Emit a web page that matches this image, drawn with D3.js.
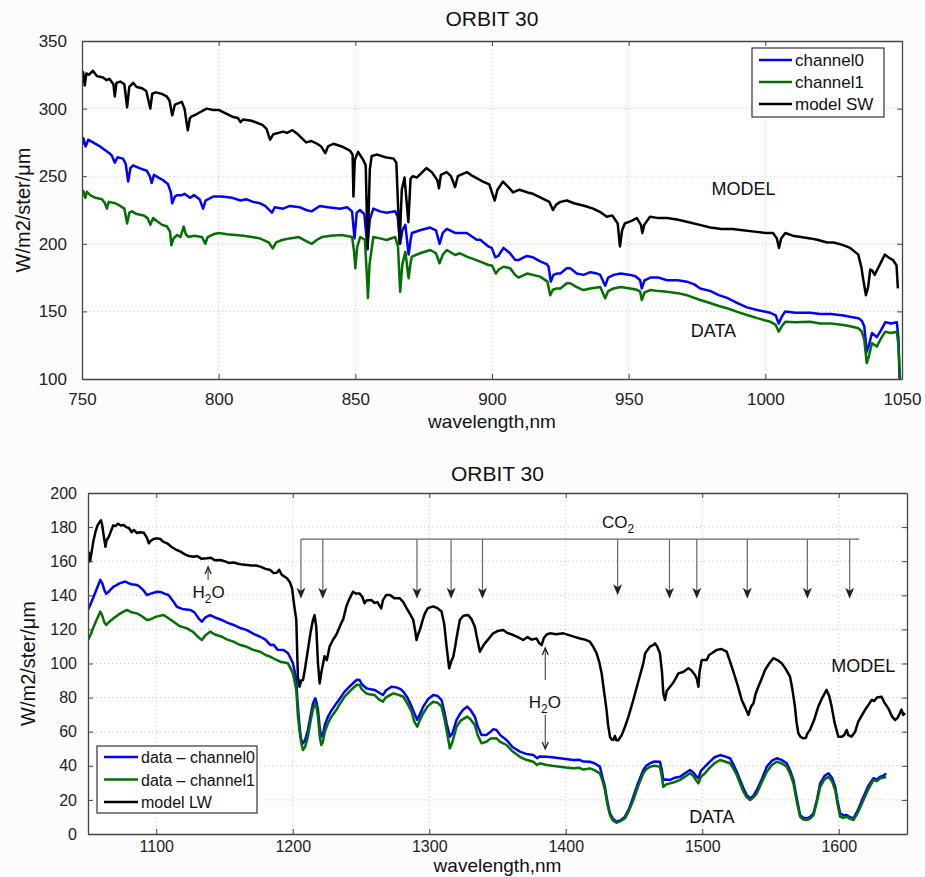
<!DOCTYPE html>
<html>
<head>
<meta charset="utf-8">
<script src="https://cdn.jsdelivr.net/npm/d3@7"></script>
<style>
  body { margin: 0; background: #fcfcfc; }
  svg { display: block; font-family: "Liberation Sans", Arial, sans-serif; }
  .grid line { stroke: #c4c4c4; stroke-dasharray: 1,3; }
  .axis path, .axis line { stroke: #444; }
  .axis text { fill: #222; }
</style>
</head>
<body>
<svg id="chart" width="925" height="877"></svg>
<script>
// ---- top panel (SW): [wavelength nm, radiance]
const swModel = [[750,322],[750.4,327],[751,317],[751.6,326],[752.5,325],[754,328],[755.5,324],[757.7,323],[759,321],[760,322],[761.5,318],[762,309],[762.6,319],[764,320],[765.5,318],[766.5,301],[767.3,316],[768.7,319],[770,316],[772,315],[773.5,313],[775,300],[775.7,311],[777,312],[779,311],[781,309],[782,306],[783,295],[784,303],[786.5,305],[787.5,300],[788.7,284],[789.5,293],[790,294],[792,296],[795.6,300],[798,299],[800,299],[802,297],[805,294],[807,293],[808,290],[809,292],[812,291],[816,288],[817.5,285],[818.8,277],[820,281],[823.6,283],[825,282],[827,284],[829,281],[832,275],[834,276],[836,274],[837.5,272],[839,267],[840,272],[842,274],[845,272],[848,269],[849,266],[849.3,235],[849.8,262],[851,268],[852.9,262],[853.8,258],[854.5,196],[855.3,255],[856,265],[858,266],[861,264],[864,263],[865,260],[866.2,200],[867,240],[868,249],[869.4,216],[870.2,248],[871,250],[872.5,249],[874,252],[876,256],[878,253],[880,247],[880.6,241],[881.3,251],[883.4,253],[885,250],[886.5,242],[887.5,250],[890.8,253],[893,250],[896.7,246],[899,244],[901,232],[902,240],[904,246],[906,242],[907.7,238],[910,240],[913,238],[915,237],[918,234],[921,231],[922.3,225],[923.5,229],[925,231],[927.4,232],[930,230],[934,228],[937,226],[940,223],[942,220],[944,221],[946,215],[946.8,198],[947.6,210],[948.6,215],[951,217],[953,219],[954.5,214],[955,208],[955.7,214],[957.8,220],[961,219],[964,219],[967.7,218],[972,216],[976,214],[979.8,212],[984,211],[988,211],[991.8,210],[996,209],[1000,208],[1002.8,208],[1004.2,204],[1005,197],[1005.8,204],[1007.3,208],[1010,206],[1013,205],[1016.4,204],[1019,203],[1022.6,201],[1025,201],[1028.5,199],[1031,197],[1034,192],[1035.2,182],[1035.7,175],[1036.8,162],[1037.6,168],[1038.4,181],[1039.2,180],[1040,177],[1041.5,183],[1043.7,192],[1045,190],[1046.7,188],[1048,184],[1048.5,167]];

const swCh0 = [[750,273],[750.5,278],[751.3,272],[752.3,277],[754,275],[756.6,272],[758,270],[760,267],[761,265],[762,260],[763,264],[765,263],[766,259],[766.9,246],[767.7,256],[768.7,258],[771,256],[773.7,254],[774.8,250],[775.5,245],[776.3,251],[778,249],[779.7,247],[781.5,244],[782.5,238],[783,230],[784,235],[784.8,236],[786.5,236],[787.5,237],[789.5,234],[791,236],[793,233],[794.3,226],[795.2,232],[798,235],[801,235],[805,234],[808,232],[810,233],[812.6,231],[815,230],[817,228],[819.5,223],[820.5,227],[823.6,226],[826,228],[829.8,227],[832,225],[834,224],[837,228],[840,227],[844.4,226],[847,227],[848.8,224],[849.7,204],[850.5,223],[851.7,225],[853.3,222],[854.4,198],[855.3,218],[856.6,226],[859,224],[861.5,223],[864.6,224],[865.5,220],[866.4,200],[867.2,210],[868.3,214],[869.5,192],[870.3,204],[870.7,208],[873.7,210],[877.4,212],[879.5,210],[880.8,200],[882,208],[883.5,211],[886.5,208],[888.3,208],[890.8,208],[894.4,203],[895.7,203],[898.7,198],[899.9,197],[901.2,190],[902.3,191],[904.2,197],[906.6,193],[908.5,188],[909.7,188],[912.7,191],[915,190],[917.6,187],[920,185],[920.7,183],[921.5,172],[922.5,177],[923.7,178],[925,178],[927.4,182],[928.6,182],[931,178],[933.5,177],[936,179],[938.4,178],[939.6,177],[941.4,169],[942.5,175],[944.5,177],[947,178],[950.6,177],[952.5,176],[954.2,173],[954.8,167],[955.8,173],[957.9,175],[961,175],[964,173],[968,173],[971.3,172],[974,170],[976.2,167],[980,165],[983,162],[986,160],[990,156],[993.3,153],[997,151],[1001.8,149],[1003.8,147],[1004.9,141],[1006,146],[1007.3,150],[1011,149],[1016.5,149],[1020,148],[1024,148],[1028.6,147],[1031,146],[1034.1,145],[1035.3,143],[1036.2,139],[1037.1,120],[1037.9,125],[1039,134],[1040.8,131],[1042.3,136],[1043.9,142],[1046,141],[1048.1,142],[1048.7,130],[1049.1,100]];

const swCh1 = [[750,236],[750.5,239],[751.2,234],[751.8,238.5],[753,236],[754.9,234],[757.3,233],[758.4,230],[759.1,226],[759.8,231],[762.2,230],[764,228],[765.5,226],[766.5,215],[767.3,223],[768.3,224],[770,222],[772.6,221],[774,219],[775,214],[776,219],[778,216],[779.3,214],[781,213],[782.2,209],[782.7,199],[783.5,204],[784.8,206.5],[786,205],[787.2,212.7],[788,207],[789,205],[791,206],[793.9,205],[795.1,200],[796,205],[798,207],[800,208],[803,207],[806.1,206.5],[809,206],[812.2,205],[815,204],[818.3,201],[819.8,196.6],[821,201],[823.2,202.8],[826,204],[829.3,205],[832,202],[834.1,200],[836,203],[837.8,205],[841,206],[845.1,206.5],[848.8,205],[849.5,195],[850,182],[850.7,198],[851.8,205],[853.5,203],[854.4,170],[854.6,160],[855.2,185],[856.6,205],[859,204],[861.5,202.8],[864.6,205],[865.6,198],[866.4,164.6],[867.2,185],[868.3,194],[869.5,174.5],[870.2,186],[870.7,190.5],[873.7,193],[877.4,195.4],[879.5,193],[880.8,185.6],[882,192],[883.5,195.4],[886.5,191.7],[888.3,193],[890.8,190.5],[895.7,186.8],[898.7,184.3],[900,184],[901.4,178],[902.5,181],[904.2,183],[906.6,182],[908.5,177],[909.7,175],[912.8,178],[917.6,175.7],[920.3,172],[921.3,162],[922.3,166],[923.7,167],[925,167],[927.4,170.8],[928.6,170.8],[931,168],[933.5,165.8],[936,167],[939.6,168],[941.4,159.7],[942.5,165],[944.5,167],[947,168],[950.6,167],[953,166],[954.2,164.6],[954.8,158.4],[955.8,164],[957.9,165.8],[961,165],[964,164.6],[968,163.5],[971.3,162],[974,160],[976.2,158.4],[980,156],[983,154],[986,152.3],[990,149.5],[993.3,147.3],[997,145],[1001.8,142.4],[1003.8,140],[1004.9,135],[1006,139],[1007.3,142.4],[1011,142],[1016.5,142.4],[1020,141],[1024,141],[1028.6,140],[1031,139],[1034.1,137.5],[1035.3,135],[1036.2,129],[1037.1,111.7],[1037.9,117],[1039,126.4],[1040.8,124],[1042.3,130],[1043.9,135],[1046,134],[1048.1,135],[1048.7,125],[1049.3,100]];

// ---- bottom panel (LW)
const lwModel = [[1050,159],[1050.6,165],[1051.5,160],[1052.9,166.6],[1054,172],[1055.5,177.3],[1057,181],[1058.7,183.2],[1059.5,184],[1060.4,181.2],[1061.5,175],[1062.8,168.5],[1063.5,172],[1065.3,174.4],[1067,178],[1068.5,181],[1070.1,180.6],[1072,182],[1074,181],[1076.2,181.2],[1078,180],[1080,179.5],[1082,177],[1083.6,178.3],[1086,176.5],[1088,177],[1090.9,176.7],[1093,174],[1094.6,170.5],[1096,172],[1098,173],[1100.7,173.4],[1103,173],[1105,171.5],[1108,170.5],[1111,168.5],[1114,167],[1117.8,165.6],[1121,164],[1124,163],[1127.5,162.6],[1130,163],[1133,161.5],[1137.3,161.7],[1140,162],[1143,160.5],[1147,160.7],[1150,160],[1153,159],[1156.8,159.2],[1160,158.5],[1163,158],[1166.6,157.8],[1170,157.5],[1173,157.5],[1176.3,156.8],[1180,155.5],[1183.6,154.8],[1186,153],[1188.5,153.3],[1190,155],[1192,152],[1195.8,150],[1198,147.5],[1199.5,144.1],[1201.2,133.3],[1202.6,125.5],[1203.3,105],[1203.8,92.3],[1205,86.4],[1206.2,90],[1207.5,90.3],[1209,97],[1211.1,107.9],[1213,118],[1214.8,125.5],[1216,128.4],[1217.2,121.6],[1218.5,100],[1219.7,88.3],[1221,95],[1223.3,104.2],[1225,102],[1227,110],[1229.4,113.8],[1232,117],[1235.5,123.6],[1237,126],[1239.2,133.3],[1241,137],[1244.1,142.1],[1246,141],[1249,141.1],[1251,139],[1252.6,135.3],[1254,137],[1257.5,137.2],[1260,135.5],[1262,136],[1264.8,132.3],[1266,137],[1268.5,140.2],[1271.2,140.2],[1274.6,138.2],[1278.5,138.2],[1281,136],[1283.4,132.4],[1286,129],[1288.3,125.5],[1289.5,120],[1290.7,113.8],[1291.8,117],[1293.1,119.6],[1295,125],[1296.8,129.4],[1299,132.5],[1302.9,133.5],[1306,132.5],[1309,130.5],[1311,123],[1312.7,109.9],[1314.6,97.2],[1316,101],[1317.6,104],[1319,110],[1320,115],[1322.4,125.5],[1325,128],[1328.5,128.4],[1331,126],[1333.4,121.6],[1335,115],[1337.1,106.9],[1338.5,109],[1340.7,111.8],[1343,114],[1346.8,117.7],[1350,119],[1354.2,119.6],[1357,118],[1361.5,116.7],[1365,115.5],[1368.8,113.8],[1372,115.5],[1375,114],[1378.6,114.7],[1380.5,112],[1382.3,110.8],[1384,115],[1386,117],[1388.4,117.7],[1393,117.2],[1398.2,117.7],[1403,116.5],[1407,115.5],[1410.4,114.7],[1414,114],[1417.7,112.8],[1420,110],[1422.6,106],[1424.5,101],[1426.3,94.2],[1428,84],[1429.9,72.7],[1431,64],[1432.4,57],[1433.5,55.5],[1434.8,55.1],[1436,57.5],[1437,55],[1438.5,55],[1441,58],[1443.4,62.9],[1446,69],[1449.5,78.6],[1453,89],[1456.8,100.1],[1458.2,106],[1461.7,109.9],[1464.3,110.9],[1465.4,111.8],[1467,110],[1469,106],[1470.5,95],[1471.5,82.5],[1472.7,78.6],[1474,84],[1476.4,86.4],[1479,89],[1482.5,94.2],[1486,95],[1489.8,97.2],[1492,96],[1494.7,93.3],[1496,91],[1497.2,86.4],[1498,95],[1499.6,102],[1503.3,102],[1505,105],[1507,106],[1510.6,108],[1514,108.5],[1517.9,106.9],[1520,102],[1522.8,95.2],[1526,87],[1528.9,78.6],[1531,75],[1533.8,69.8],[1535,73],[1536,75],[1537.5,76.6],[1539,82],[1541.1,86.4],[1543.5,91],[1546,96.2],[1549,100],[1552.1,103.1],[1555,102],[1558.2,100.1],[1561,97],[1564.3,92.3],[1566,85],[1567.9,74.7],[1569,66],[1570.4,59.1],[1572,57],[1574.1,56.1],[1576,56.5],[1577,59],[1578.9,61],[1582,67],[1585,74.7],[1588,80],[1591.1,84.5],[1593,81],[1594.8,74.7],[1597,65],[1599.7,57.1],[1602,57],[1604,58],[1605.8,61],[1607,58],[1609.4,57.1],[1612,60],[1614.3,65.9],[1616.5,69],[1619.2,72.7],[1622,76],[1624.1,78.6],[1626,78],[1628,80],[1631.4,80.5],[1633.5,77],[1636.3,73.7],[1639,69],[1641.2,66.9],[1643,68],[1644.8,70.8],[1646,73],[1647.3,69.8],[1648.5,71]];

const lwCh0 = [[1050,131.4],[1052,135],[1054.1,139.2],[1056.5,144],[1059,149],[1060.5,147],[1062,143],[1063.4,140.8],[1065,142],[1068.7,145.1],[1071,146],[1073,147],[1077.3,148.1],[1080,147],[1082,146.5],[1085.8,146.1],[1088,145],[1090.5,143],[1093.2,140.2],[1096,141],[1100.5,142.1],[1103,142],[1106,141],[1109,140.2],[1112,137],[1115.1,133.3],[1119,132],[1124.9,131.4],[1128,130],[1131,126.5],[1133.4,124.5],[1136,127],[1139.5,128.4],[1143,127],[1148.1,125.5],[1152,124],[1156.6,122.6],[1161,121],[1166.4,119.6],[1171,117.5],[1176.2,115.7],[1180,114],[1183.5,110.9],[1186,111],[1189,108],[1193.3,107.9],[1196.5,106],[1198.5,103],[1200.1,100.1],[1201.5,95],[1202.6,90.3],[1203.3,80],[1203.8,74.7],[1205,62.9],[1206,56],[1207.5,53.2],[1209,55],[1211.1,61],[1213,69],[1214.8,76.6],[1216.5,79.6],[1217.5,77],[1218.5,72.7],[1219.8,62],[1220.9,57.1],[1222,58],[1223.5,64],[1225.8,68.8],[1228,72],[1231.9,76.6],[1235,80],[1238,83.5],[1241,86],[1245.3,89.3],[1247,90.5],[1249,90.3],[1250.5,88],[1253.9,85.5],[1256,85],[1260,84.5],[1263,83],[1266.1,81.5],[1268,84],[1272.2,86.4],[1276,86],[1279,85],[1281,83.5],[1284,80],[1287.1,74.7],[1289,71],[1291.2,66.9],[1293,70],[1295.6,74.7],[1299,79],[1302.9,81.5],[1306,81],[1309,78.6],[1311,72],[1312.7,64.9],[1315.1,57.1],[1317,59],[1320,66.9],[1323,71],[1325,73],[1327.8,74.7],[1330,73],[1333.4,68.8],[1335.5,63],[1338.3,58.1],[1341.9,58.1],[1345,60],[1347,61.5],[1349.3,61],[1352,58],[1356.6,55.1],[1361,51],[1366.4,48.3],[1371,47],[1376.2,46.3],[1379,44.5],[1381,45.5],[1385.9,45.3],[1390,45],[1395.7,44.4],[1400,44],[1405.5,43.4],[1410,43.5],[1413,42.5],[1417.7,42.4],[1421,41.5],[1425,39.5],[1427,33],[1428.7,27.7],[1430.5,19],[1432.4,12.1],[1434.5,9],[1437.2,7.2],[1440,8],[1443.4,10.2],[1446.5,15],[1449.5,21.9],[1453,30],[1456.8,37.5],[1459,40],[1461.7,41.5],[1465,42.5],[1469,42.4],[1470.3,38],[1471.5,31.7],[1473.5,32],[1476.4,31.7],[1480,33],[1483.7,33.6],[1487,35.5],[1491,37.5],[1493.5,36],[1495.5,34],[1497.2,32.7],[1499,37],[1502,39.5],[1505,42],[1509,45],[1513.1,46.3],[1516.5,45.5],[1520.4,44.4],[1523,40.5],[1525.3,36.5],[1527.8,31.5],[1530.2,26.8],[1532.5,23],[1535.1,20.9],[1537.5,22.5],[1540,25.8],[1543.5,32],[1547.3,39.5],[1551,43],[1554.6,44.4],[1558,43.5],[1561.9,41.5],[1564.5,37],[1566.8,31.7],[1569,22],[1571.7,11.1],[1574,9.5],[1576.6,9.2],[1579,10],[1581.5,12.1],[1584,20],[1586.4,29.7],[1589.5,34],[1592.5,35.6],[1595,33],[1597.4,27.7],[1599,20],[1601,12.1],[1603.5,11],[1605.9,11.1],[1608,10],[1610.8,9.2],[1614,14],[1618.1,21.9],[1621.5,28],[1625.4,32.7],[1628,32],[1630.3,33.6],[1632.5,34],[1634.7,35.6]];

const lwCh1 = [[1050,113.8],[1052,117],[1054.1,121.6],[1056.5,126],[1059,130.4],[1060.5,128],[1062,124],[1063.4,122.6],[1065,124],[1068.7,126.5],[1072,128.5],[1075,130],[1078.5,131.4],[1082,130],[1085.8,129.4],[1089,128],[1093.2,125.5],[1096,126],[1100,127.5],[1105.4,128.4],[1109,126.5],[1112.7,124.5],[1117,122],[1122.5,120.6],[1127,118.5],[1130,116],[1133.4,113.8],[1136,116.5],[1139.5,118.7],[1143,117],[1148.1,115.7],[1152,114],[1156.6,112.8],[1161,111],[1166.4,109.8],[1171,108],[1176.2,106.9],[1180,105],[1183.5,104],[1187,102.5],[1191,101],[1196.5,100.1],[1198.5,97],[1200.1,94.2],[1201.5,89],[1202.6,84.5],[1203.3,75],[1203.8,68.8],[1205,60],[1206.3,53.2],[1207.5,49.3],[1209,51],[1211.1,57.1],[1213,66],[1214.8,73],[1216.5,76.6],[1217.5,74],[1218.5,68.8],[1219.8,57],[1220.9,52.2],[1222,54],[1223.5,60],[1225.8,64.9],[1228,68.5],[1231.9,72.7],[1235,77],[1238,80.5],[1241,83],[1245.3,86.4],[1247,87.5],[1249,87.4],[1250.5,85],[1253.9,82.5],[1256,82],[1260,81.5],[1263,79],[1266.1,77.6],[1268,80],[1273.6,82.5],[1276,82],[1281,80.5],[1284,76.5],[1287.1,71.7],[1289,66],[1291.2,62.9],[1293,66.5],[1295.6,70.8],[1299,75],[1302.9,77.6],[1306,77],[1309,74.7],[1311,68],[1312.7,61],[1315.1,50.2],[1317,54],[1320,62.9],[1323,66.5],[1327.8,68.8],[1330,67.5],[1333.4,63.9],[1335.5,58],[1338.3,53.2],[1341.9,54.1],[1345,56],[1349.3,56.1],[1352,54],[1356.6,52.2],[1361,48.5],[1366.4,45.3],[1371,43.5],[1376.2,42.4],[1379,40.5],[1381,41.5],[1385.9,40.5],[1390,40],[1395.7,39.5],[1400,39],[1405.5,38.5],[1410,38.8],[1413,37.8],[1417.7,38.5],[1421,37.5],[1425,35.6],[1427,31],[1428.7,25.8],[1430.5,17.5],[1432.4,11.1],[1434.5,8],[1437.2,6.6],[1440,7.5],[1443.4,9.2],[1446.5,14],[1449.5,19.9],[1453,28],[1456.8,35.6],[1459,38],[1461.7,39.5],[1465,40],[1469,39.5],[1470.3,34],[1471.5,27.7],[1473.5,29],[1476.4,29.7],[1480,30.5],[1483.7,31.7],[1487,33.5],[1491,35.6],[1493.5,34],[1495.5,31.5],[1497.2,29.7],[1499,33.5],[1502,35.6],[1505,38.5],[1509,41.5],[1513.1,43.4],[1516.5,42.5],[1520.4,41.5],[1523,38],[1525.3,34.6],[1527.8,29.5],[1530.2,24.8],[1532.5,21.5],[1535.1,19.9],[1537.5,21.5],[1540,23.9],[1543.5,30],[1547.3,36.5],[1551,40.5],[1554.6,42.4],[1558,41.5],[1561.9,39.5],[1564.5,35],[1566.8,29.7],[1569,20],[1571.7,10.1],[1574,8.5],[1576.6,8.2],[1579,9],[1581.5,11.1],[1584,19],[1586.4,27.7],[1589.5,32],[1592.5,33.6],[1595,31],[1597.4,25.8],[1599,18],[1601,10.1],[1603.5,9.5],[1605.9,10.1],[1608,9],[1610.8,8.2],[1614,12.5],[1618.1,19.9],[1621.5,26],[1625.4,31.7],[1628,31],[1630.3,32.7],[1632.5,33],[1634.7,33.6]];

// ticks
const swXTicks = [750, 800, 850, 900, 950, 1000, 1050];
const swYTicks = [100, 150, 200, 250, 300, 350];
const lwXTicks = [1100, 1200, 1300, 1400, 1500, 1600];
const lwYTicks = [0, 20, 40, 60, 80, 100, 120, 140, 160, 180, 200];

// CO2 bands marked in the LW panel: [wavelength, arrow tip]
const co2Bands = [[1206,138],[1222,138],[1291,138],[1316,138],[1339,138],[1438,140],[1476,138],[1496,138],[1533,138],[1577,138],[1608,138]];
const co2Bar = [1206, 1615, 173];

const colors = { ch0: "#0000ff", ch1: "#007000", model: "#000000" };

const svg = d3.select("#chart");
const fmt = d3.format("d");

function drawPanel(cfg) {
    const x = d3.scaleLinear().domain(cfg.xDomain).range([cfg.left, cfg.left + cfg.width]);
    const y = d3.scaleLinear().domain(cfg.yDomain).range([cfg.top + cfg.height, cfg.top]);
    const g = svg.append("g");

    g.append("rect")
        .attr("x", cfg.left).attr("y", cfg.top)
        .attr("width", cfg.width).attr("height", cfg.height)
        .attr("fill", "#fff");

    // dotted grid
    const grid = g.append("g").attr("class", "grid");
    grid.selectAll(".gx").data(cfg.xTicks.filter(t => t > cfg.xDomain[0] && t < cfg.xDomain[1]))
        .join("line")
        .attr("x1", d => x(d)).attr("x2", d => x(d))
        .attr("y1", cfg.top).attr("y2", cfg.top + cfg.height);
    grid.selectAll(".gy").data(cfg.yTicks.filter(t => t > cfg.yDomain[0] && t < cfg.yDomain[1]))
        .join("line")
        .attr("x1", cfg.left).attr("x2", cfg.left + cfg.width)
        .attr("y1", d => y(d)).attr("y2", d => y(d));

    const clipId = cfg.id + "-clip";
    g.append("clipPath").attr("id", clipId)
        .append("rect")
        .attr("x", cfg.left).attr("y", cfg.top - 1)
        .attr("width", cfg.width).attr("height", cfg.height + 1);

    const line = d3.line().x(d => x(d[0])).y(d => y(d[1]));
    const lines = g.append("g").attr("clip-path", `url(#${clipId})`);
    cfg.series.forEach(s => {
        lines.append("path")
            .datum(s.data)
            .attr("fill", "none")
            .attr("stroke", s.color)
            .attr("stroke-width", 2.5)
            .attr("stroke-linejoin", "round")
            .attr("d", line);
    });

    // axes: ticks point inward on all four sides
    const fs = cfg.tickFont;
    g.append("g").attr("class", "axis")
        .attr("transform", `translate(0,${cfg.top + cfg.height})`)
        .call(d3.axisBottom(x).tickValues(cfg.xTicks).tickFormat(fmt).tickSize(-5).tickSizeOuter(0).tickPadding(cfg.xPad))
        .call(a => a.selectAll("text").style("font-size", fs + "px"));
    g.append("g").attr("class", "axis")
        .attr("transform", `translate(${cfg.left},0)`)
        .call(d3.axisLeft(y).tickValues(cfg.yTicks).tickFormat(fmt).tickSize(-5).tickSizeOuter(0).tickPadding(cfg.yPad))
        .call(a => a.selectAll("text").style("font-size", fs + "px"));
    g.append("g").attr("class", "axis")
        .attr("transform", `translate(0,${cfg.top})`)
        .call(d3.axisTop(x).tickValues(cfg.xTicks).tickSize(-5).tickSizeOuter(0).tickFormat(""));
    g.append("g").attr("class", "axis")
        .attr("transform", `translate(${cfg.left + cfg.width},0)`)
        .call(d3.axisRight(y).tickValues(cfg.yTicks).tickSize(-5).tickSizeOuter(0).tickFormat(""));
    g.selectAll(".axis path").attr("stroke-width", 1.3);

    g.append("text")
        .attr("x", cfg.left + cfg.width / 2).attr("y", cfg.titleY)
        .attr("text-anchor", "middle")
        .style("font-size", "21px").attr("fill", "#111")
        .text("ORBIT 30");

    g.append("text")
        .attr("x", cfg.left + cfg.width / 2).attr("y", cfg.xLabelY)
        .attr("text-anchor", "middle")
        .style("font-size", "19px").attr("fill", "#111")
        .text("wavelength,nm");

    g.append("text")
        .attr("transform", `translate(${cfg.yLabelX},${cfg.top + cfg.height / 2}) rotate(-90)`)
        .attr("text-anchor", "middle")
        .style("font-size", "20px").attr("fill", "#111")
        .text("W/m2/ster/\u03bcm");

    // legend
    const lg = g.append("g").attr("transform", `translate(${cfg.legend.x},${cfg.legend.y})`);
    lg.append("rect")
        .attr("width", cfg.legend.w).attr("height", cfg.legend.h)
        .attr("fill", "#fff").attr("stroke", "#333").attr("stroke-width", 1.2);
    cfg.legend.items.forEach((it, i) => {
        const yy = cfg.legend.row0 + i * cfg.legend.step;
        lg.append("line")
            .attr("x1", 7).attr("x2", 7 + cfg.legend.lineLen)
            .attr("y1", yy).attr("y2", yy)
            .attr("stroke", it.color).attr("stroke-width", 2.5);
        lg.append("text")
            .attr("x", 10 + cfg.legend.lineLen).attr("y", yy + 6)
            .style("font-size", cfg.legend.font + "px").attr("fill", "#111")
            .text(it.label);
    });

    return { x, y, g };
}

const swPanel = drawPanel({
    id: "sw",
    left: 82, top: 41, width: 820, height: 338,
    xDomain: [750, 1050], yDomain: [100, 350],
    xTicks: swXTicks, yTicks: swYTicks,
    tickFont: 17, xPad: 14, yPad: 15,
    titleY: 26, xLabelY: 428, yLabelX: 30,
    series: [
        { data: swCh0, color: colors.ch0 },
        { data: swCh1, color: colors.ch1 },
        { data: swModel, color: colors.model }
    ],
    legend: {
        x: 752, y: 48, w: 132, h: 69, row0: 12, step: 22, lineLen: 33, font: 17,
        items: [
            { label: "channel0", color: colors.ch0 },
            { label: "channel1", color: colors.ch1 },
            { label: "model SW", color: colors.model }
        ]
    }
});

const lwPanel = drawPanel({
    id: "lw",
    left: 88, top: 493, width: 819, height: 341,
    xDomain: [1050, 1650], yDomain: [0, 200],
    xTicks: lwXTicks, yTicks: lwYTicks,
    tickFont: 16, xPad: 7, yPad: 11,
    titleY: 481, xLabelY: 872, yLabelX: 35,
    series: [
        { data: lwCh0, color: colors.ch0 },
        { data: lwCh1, color: colors.ch1 },
        { data: lwModel, color: colors.model }
    ],
    legend: {
        x: 97, y: 746, w: 160, h: 67, row0: 11, step: 22.5, lineLen: 34, font: 16,
        items: [
            { label: "data \u2013 channel0", color: colors.ch0 },
            { label: "data \u2013 channel1", color: colors.ch1 },
            { label: "model LW", color: colors.model }
        ]
    }
});

// ---- annotations
function note(panel, wl, val, txt) {
    panel.g.append("text")
        .attr("x", panel.x(wl)).attr("y", panel.y(val))
        .attr("text-anchor", "middle")
        .style("font-size", "18px").attr("fill", "#111")
        .text(txt);
}
note(swPanel, 992, 236, "MODEL");
note(swPanel, 981, 131, "DATA");
note(lwPanel, 1618, 95, "MODEL");
note(lwPanel, 1507, 6.5, "DATA");

function chem(panel, wl, val, a, b, anchor) {
    const t = panel.g.append("text")
        .attr("x", panel.x(wl)).attr("y", panel.y(val))
        .attr("text-anchor", anchor)
        .style("font-size", "17px").attr("fill", "#111");
    t.append("tspan").text(a);
    t.append("tspan").attr("dy", 5).style("font-size", "12px").text("2");
    t.append("tspan").attr("dy", -5).text(b);
}

// CO2 bracket with arrows
const ann = lwPanel.g.append("g");
ann.append("line")
    .attr("x1", lwPanel.x(co2Bar[0])).attr("x2", lwPanel.x(co2Bar[1]))
    .attr("y1", lwPanel.y(co2Bar[2])).attr("y2", lwPanel.y(co2Bar[2]))
    .attr("stroke", "#666").attr("stroke-width", 1.2);
co2Bands.forEach(([wl, tip]) => {
    const xx = lwPanel.x(wl), y0 = lwPanel.y(co2Bar[2]), y1 = lwPanel.y(tip);
    ann.append("line")
        .attr("x1", xx).attr("x2", xx).attr("y1", y0).attr("y2", y1 - 6)
        .attr("stroke", "#666").attr("stroke-width", 1.2);
    ann.append("path")
        .attr("d", `M${xx},${y1} L${xx - 4.5},${y1 - 11} L${xx},${y1 - 8} L${xx + 4.5},${y1 - 11} Z`)
        .attr("fill", "#222");
});
chem(lwPanel, 1426.5, 179.5, "CO", "", "start");

// H2O markers
function arrow(panel, wl, from, to) {
    const xx = panel.x(wl), ya = panel.y(from), yb = panel.y(to);
    const dir = yb < ya ? 1 : -1;
    panel.g.append("line")
        .attr("x1", xx).attr("x2", xx).attr("y1", ya).attr("y2", yb)
        .attr("stroke", "#444").attr("stroke-width", 1.1);
    panel.g.append("path")
        .attr("d", `M${xx - 3},${yb + dir * 7} L${xx},${yb} L${xx + 3},${yb + dir * 7}`)
        .attr("fill", "none").attr("stroke", "#222").attr("stroke-width", 1.3);
}
arrow(lwPanel, 1138, 149, 156.6);
chem(lwPanel, 1138.3, 138.4, "H", "O", "middle");
arrow(lwPanel, 1385, 90.3, 109.1);
arrow(lwPanel, 1385, 69.8, 49.9);
chem(lwPanel, 1384.7, 73.9, "H", "O", "middle");
</script>
</body>
</html>
